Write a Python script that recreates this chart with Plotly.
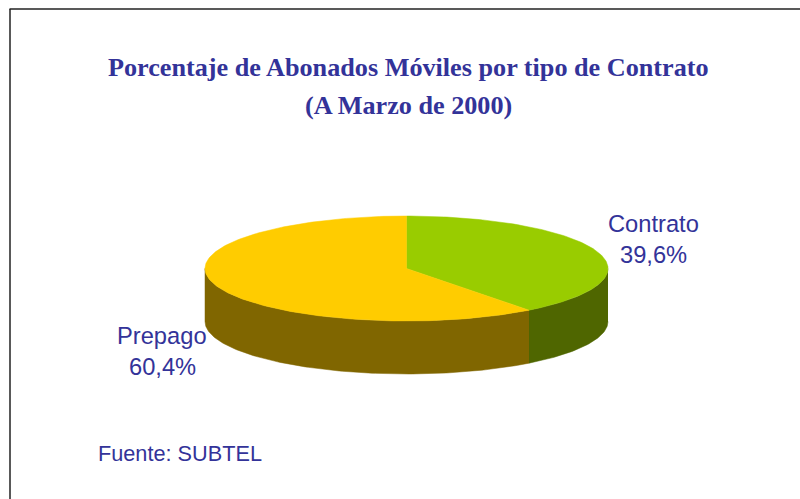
import numpy as np
import plotly.graph_objects as go

categories = ["Contrato", "Prepago"]
shares = [39.6, 60.4]
share_labels = ["39,6%", "60,4%"]
top_colors = ["#99CC00", "#FFCC00"]
side_colors = ["#4F6600", "#806600"]
title_lines = ["Porcentaje de Abonados Móviles por tipo de Contrato", "(A Marzo de 2000)"]
source_text = "Fuente: SUBTEL"

CX, CY, RX, RY, DEPTH = 406.5, 268.5, 201.5, 52.5, 53
TEXT = "#333399"


def arc(t0, t1, dy=0.0):
    t = np.linspace(t0, t1, max(3, int(abs(t1 - t0) * 60)))
    return CX + RX * np.sin(t), CY - RY * np.cos(t) + dy


fig = go.Figure()
fractions = np.array(shares) / sum(shares)
edges = np.concatenate([[0], np.cumsum(fractions)]) * 2 * np.pi

# Visible outer wall: the front half of the rim (angles pi/2 to 3pi/2)
for i in range(len(shares)):
    a, b = max(edges[i], np.pi / 2), min(edges[i + 1], 3 * np.pi / 2)
    if b > a:
        x1, y1 = arc(a, b)
        x2, y2 = arc(b, a, DEPTH)
        fig.add_trace(go.Scatter(x=np.r_[x1, x2], y=np.r_[y1, y2], mode="lines", fill="toself",
                                 fillcolor=side_colors[i], line=dict(width=0.5, color=side_colors[i]),
                                 hoverinfo="skip"))

# Top face
for i in range(len(shares)):
    x1, y1 = arc(edges[i], edges[i + 1])
    fig.add_trace(go.Scatter(x=np.r_[CX, x1, CX], y=np.r_[CY, y1, CY], mode="lines", fill="toself",
                             fillcolor=top_colors[i], line=dict(width=0.5, color=top_colors[i]),
                             hoverinfo="skip"))


def note(x, y, text, family, size, bold=False):
    fig.add_annotation(x=x, y=y, xref="x", yref="y", text=f"<b>{text}</b>" if bold else text,
                       showarrow=False, xanchor="center", yanchor="middle",
                       font=dict(family=family, size=size, color=TEXT))


SERIF = "Liberation Serif"
SANS = "Liberation Sans"
note(408, 67, title_lines[0], SERIF, 26.2, True)
note(408, 105, title_lines[1], SERIF, 26.2, True)
note(653, 224, categories[0], SANS, 23.7)
note(653, 255, share_labels[0], SANS, 23.7)
note(162, 336, categories[1], SANS, 23.7)
note(162, 367, share_labels[1], SANS, 23.7)
note(180, 453, source_text, SANS, 21.7)

fig.update_layout(
    width=800, height=499, margin=dict(l=0, r=0, t=0, b=0),
    paper_bgcolor="white", plot_bgcolor="white", showlegend=False,
    xaxis=dict(range=[0, 800], visible=False, fixedrange=True),
    yaxis=dict(range=[499, 0], visible=False, fixedrange=True),
    shapes=[
        dict(type="line", xref="x", yref="y", x0=9.5, x1=800, y0=9, y1=9, line=dict(color="#222222", width=1.5)),
        dict(type="line", xref="x", yref="y", x0=10, x1=10, y0=9, y1=499, line=dict(color="#222222", width=1.5)),
    ],
)
fig.write_html("out.html", config={"displayModeBar": False},
               post_script="document.body.style.margin='0';document.documentElement.style.overflow='hidden';")
